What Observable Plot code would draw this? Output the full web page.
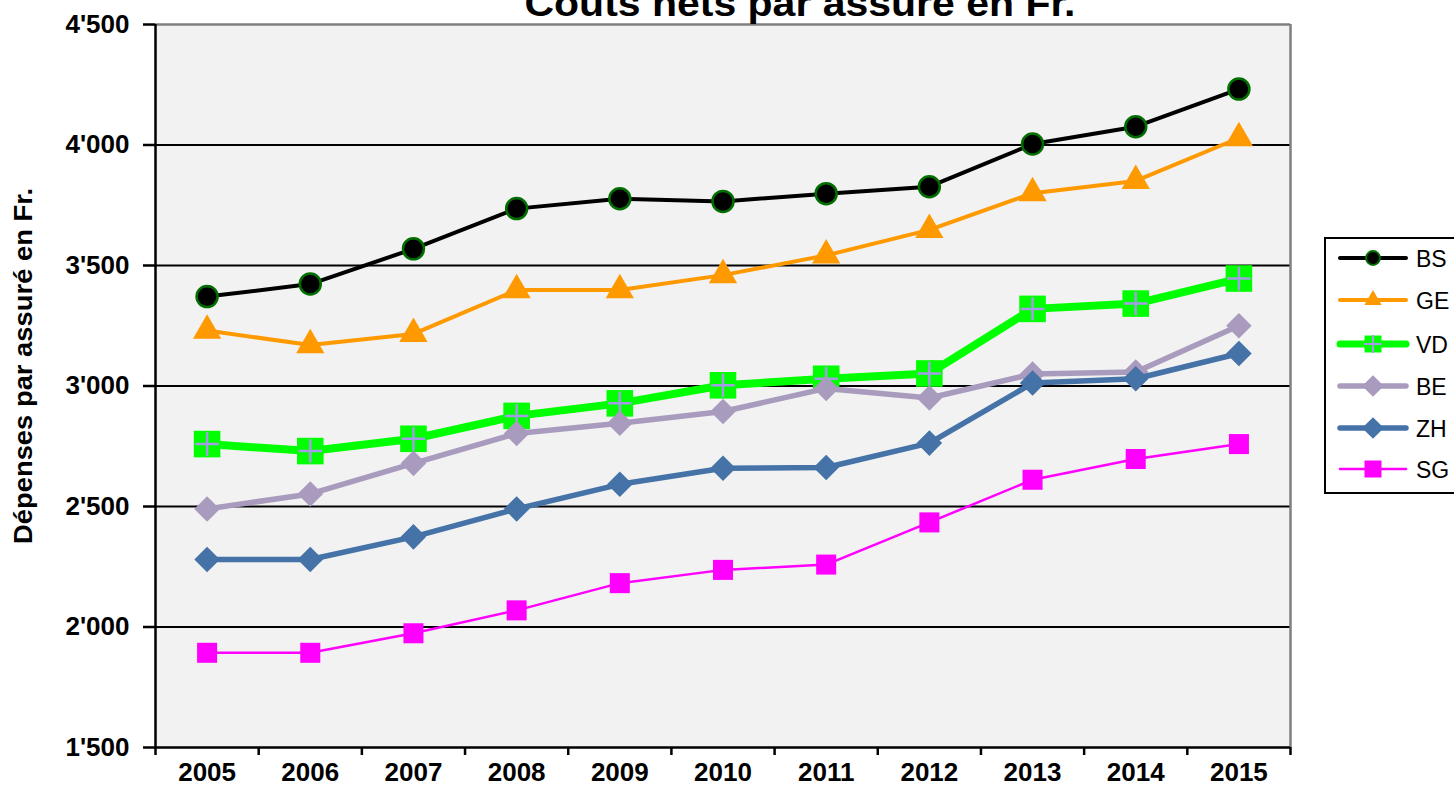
<!DOCTYPE html>
<html>
<head>
<meta charset="utf-8">
<script src="https://cdn.jsdelivr.net/npm/d3@7"></script>
<script src="https://cdn.jsdelivr.net/npm/@observablehq/plot@0.6"></script>
<style>
  html, body { margin: 0; padding: 0; background: #ffffff; }
  #wrap { position: relative; width: 1454px; height: 792px; overflow: hidden; }
  #legend { position: absolute; left: 1324px; top: 237px; }
</style>
</head>
<body>
<div id="wrap"></div>
<script>
// ---- data ----
const years = [2005, 2006, 2007, 2008, 2009, 2010, 2011, 2012, 2013, 2014, 2015];
const seriesNames = ["BS", "GE", "VD", "BE", "ZH", "SG"];
const BS = [3371, 3423, 3569, 3736, 3777, 3766, 3798, 3827, 4004, 4076, 4232];
const GE = [3230, 3170, 3216, 3398, 3398, 3460, 3542, 3648, 3800, 3851, 4029];
const VD = [2759, 2730, 2781, 2876, 2928, 3003, 3030, 3052, 3320, 3342, 3446];
const BE = [2490, 2552, 2679, 2803, 2845, 2894, 2990, 2950, 3050, 3058, 3250];
const ZH = [2280, 2280, 2374, 2490, 2592, 2659, 2662, 2763, 3012, 3030, 3135];
const SG = [1893, 1893, 1974, 2069, 2182, 2237, 2259, 2434, 2611, 2697, 2759];
const yTicks = [1500, 2000, 2500, 3000, 3500, 4000, 4500];
const titleText = "Coûts nets par assuré en Fr.";
const yLabelText = "Dépenses par assuré en Fr.";

const valuesBySeries = {BS, GE, VD, BE, ZH, SG};
const rows = seriesNames.flatMap(s => years.map((year, i) => ({series: s, year, value: valuesBySeries[s][i]})));
const bands = years.map(y => y - 0.5).concat([years[years.length - 1] + 0.5]);
const fmt = d => `${Math.floor(d / 1000)}'${String(d % 1000).padStart(3, "0")}`;

// ---- styles ----
const styles = {
  BS: {stroke: "#000000", width: 4, marks: [{symbol: "circle", r: 10.5, fill: "#000000", stroke: "#006f00", sw: 2.5}],
       legend: [{symbol: d3.symbolCircle, size: 150, fill: "#000000", stroke: "#006f00", sw: 2}]},
  GE: {stroke: "#ff9900", width: 4, marks: [{symbol: "triangle", r: 10.5, fill: "#ff9900"}],
       legend: [{symbol: d3.symbolTriangle, size: 130, fill: "#ff9900"}]},
  VD: {stroke: "#00ff00", width: 8, marks: [{symbol: "square", r: 15, fill: "#00ff00"}, {symbol: "plus", r: 7.6, fill: "none", stroke: "#a49de6", sw: 2.5}],
       legend: [{symbol: d3.symbolSquare, size: 289, fill: "#00ff00"}, {symbol: d3.symbolPlus, size: 110, fill: "none", stroke: "#a49de6", sw: 2}]},
  BE: {stroke: "#a99bbd", width: 5.5, marks: [{symbol: "diamond2", r: 11.5, fill: "#a99bbd"}],
       legend: [{symbol: d3.symbolDiamond2, size: 300, fill: "#a99bbd"}]},
  ZH: {stroke: "#4572a7", width: 5.5, marks: [{symbol: "diamond2", r: 11.5, fill: "#4572a7"}],
       legend: [{symbol: d3.symbolDiamond2, size: 300, fill: "#4572a7"}]},
  SG: {stroke: "#ff00ff", width: 2.5, marks: [{symbol: "square", r: 11.3, fill: "#ff00ff"}],
       legend: [{symbol: d3.symbolSquare, size: 289, fill: "#ff00ff"}]}
};

const seriesMarks = seriesNames.flatMap(s => {
  const data = rows.filter(d => d.series === s);
  const st = styles[s];
  return [
    Plot.line(data, {x: "year", y: "value", stroke: st.stroke, strokeWidth: st.width, strokeLinejoin: "round", strokeLinecap: "round"}),
    ...st.marks.map(m => Plot.dot(data, {x: "year", y: "value", symbol: m.symbol, r: m.r, fill: m.fill, stroke: m.stroke || "none", strokeWidth: m.sw || 0}))
  ];
});

const chart = Plot.plot({
  width: 1454,
  height: 792,
  marginLeft: 155,
  marginRight: 164,
  marginTop: 24,
  marginBottom: 45,
  x: {domain: [bands[0], bands[bands.length - 1]]},
  y: {domain: [yTicks[0], yTicks[yTicks.length - 1]]},
  style: {fontFamily: "'Liberation Sans', Arial, sans-serif", fontSize: "26px", fontWeight: "bold", background: "#ffffff", color: "#000000"},
  marks: [
    Plot.frame({fill: "#f2f2f2", stroke: null}),
    Plot.ruleY(yTicks.slice(1, -1), {stroke: "#000000", strokeWidth: 2}),
    Plot.ruleY([yTicks[yTicks.length - 1]], {stroke: "#7f7f7f", strokeWidth: 2.5}),
    Plot.ruleX([bands[bands.length - 1]], {stroke: "#7f7f7f", strokeWidth: 2.5}),
    Plot.axisY({ticks: yTicks, tickSize: 12, tickPadding: 14, tickFormat: fmt, label: null, strokeWidth: 2.5, fontSize: 26, fontWeight: "bold"}),
    Plot.axisX({ticks: bands, tickSize: 8, tickFormat: () => "", label: null, strokeWidth: 2.5}),
    Plot.axisX({ticks: years, tickSize: 0, tickPadding: 15, tickFormat: d => String(d), label: null, fontSize: 26, fontWeight: "bold"}),
    Plot.ruleX([bands[0]], {stroke: "#000000", strokeWidth: 2.5}),
    Plot.ruleY([yTicks[0]], {stroke: "#000000", strokeWidth: 2.5}),
    ...seriesMarks
  ]
});

document.getElementById("wrap").appendChild(chart);

// title (partly cut by the top edge, as in the reference)
const svg = d3.select(chart);
const title = svg.append("text")
  .attr("x", 800).attr("y", 16)
  .attr("text-anchor", "middle")
  .style("font-family", "'Liberation Sans', Arial, sans-serif")
  .style("font-size", "36px").style("font-weight", "bold")
  .attr("textLength", 551).attr("lengthAdjust", "spacingAndGlyphs")
  .text(titleText);

// rotated y label
svg.append("text")
  .attr("transform", "translate(32,366) rotate(-90)")
  .attr("text-anchor", "middle")
  .style("font-family", "'Liberation Sans', Arial, sans-serif")
  .style("font-size", "26px").style("font-weight", "bold")
  .attr("textLength", 356).attr("lengthAdjust", "spacingAndGlyphs")
  .text(yLabelText);

// legend
const lg = d3.select("#wrap").append("svg")
  .attr("id", "legend").attr("width", 130).attr("height", 258);
lg.append("rect").attr("x", 1).attr("y", 1).attr("width", 200).attr("height", 255)
  .attr("fill", "#ffffff").attr("stroke", "#000000").attr("stroke-width", 2);
const rowY = [21, 63, 107, 149, 191, 232];
seriesNames.forEach((s, i) => {
  const st = styles[s];
  const g = lg.append("g").attr("transform", `translate(0,${rowY[i]})`);
  g.append("line").attr("x1", 16).attr("x2", 82).attr("y1", 0).attr("y2", 0)
    .attr("stroke", st.stroke).attr("stroke-width", Math.min(st.width, 7)).attr("stroke-linecap", "round");
  st.legend.forEach(m => {
    g.append("path").attr("transform", "translate(49,0)")
      .attr("d", d3.symbol(m.symbol, m.size)())
      .attr("fill", m.fill).attr("stroke", m.stroke || "none").attr("stroke-width", m.sw || 0);
  });
  g.append("text").attr("x", 92).attr("y", 8.5)
    .style("font-family", "'Liberation Sans', Arial, sans-serif").style("font-size", "23px")
    .text(s);
});
</script>
</body>
</html>
